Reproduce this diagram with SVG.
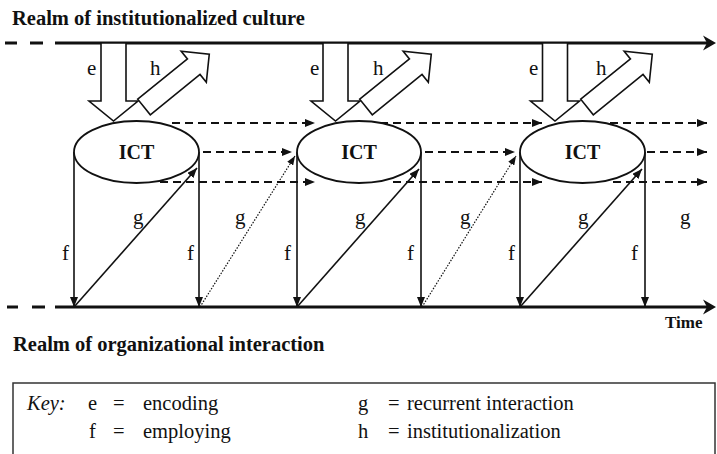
<svg xmlns="http://www.w3.org/2000/svg" xmlns:xlink="http://www.w3.org/1999/xlink" width="717" height="454" viewBox="0 0 717 454">
<style>
 text{font-family:"Liberation Serif","DejaVu Serif",serif;fill:#111}
 .title{font-size:20.5px;font-weight:bold}
 .lbl{font-size:21px}
 .ict{font-size:20px;font-weight:bold;text-anchor:middle}
 .key{font-size:20.5px}
 .axis{stroke:#111;stroke-width:3;fill:none}
 .axhead{fill:#111;stroke:none}
 .f{stroke:#111;stroke-width:1.6;fill:none;marker-end:url(#ah)}
 .dash{stroke:#111;stroke-width:2;stroke-dasharray:8 5;fill:none;marker-end:url(#ah)}
 .dot{stroke:#111;stroke-width:1.2;stroke-dasharray:1.5 1.5;fill:none;marker-end:url(#ahs)}
 .blk{fill:#fff;stroke:#111;stroke-width:1.6;stroke-linejoin:miter}
 .ell{fill:#fff;stroke:#111;stroke-width:1.8}
 .box{fill:none;stroke:#333;stroke-width:1.5}
</style>
<defs>
 <marker id="ah" viewBox="0 0 10 8" markerWidth="10" markerHeight="8" refX="10" refY="4" markerUnits="userSpaceOnUse" orient="auto">
  <path d="M0,0 L10,4 L0,8 Z" fill="#111"/>
 </marker>
 <marker id="ahs" viewBox="0 0 9 7" markerWidth="9" markerHeight="7" refX="9" refY="3.5" markerUnits="userSpaceOnUse" orient="auto">
  <path d="M0,0 L9,3.5 L0,7 Z" fill="#111"/>
 </marker>
 <polygon id="eArrow" class="blk" points="-12.5,0 -12.5,58 -24.5,58 0,78 24.5,58 12.5,58 12.5,0"/>
 <path id="hArrow" class="blk" d="M0,-10 L64,-10 L64,-20 L84,0 L64,20 L64,10 L0,10 Z"/>
</defs>
<rect width="717" height="454" fill="#fff"/>

<g id="titles" font-family="Liberation Serif, DejaVu Serif, serif">
 <text class="title" x="12" y="25">Realm of institutionalized culture</text>
 <text class="title" x="13" y="351">Realm of organizational interaction</text>
 <text x="665" y="328" style="font-size:17px;font-weight:bold">Time</text>
</g>

<g id="connectors" font-family="Liberation Serif, DejaVu Serif, serif">
 <!-- time axes -->
 <path class="axis" d="M5,43 H17 M30,43 H43 M55,43 H707"/>
 <path class="axhead" d="M716,43 L703,35.5 L707,43 L703,50.5 Z"/>
 <path class="axis" d="M7,307 H18 M32,307 H45 M55,307 H707"/>
 <path class="axhead" d="M716,307 L703,299.5 L707,307 L703,314.5 Z"/>

 <!-- encoding arrows -->
 <use xlink:href="#eArrow" href="#eArrow" transform="translate(113.5,43)"/>
 <use xlink:href="#eArrow" href="#eArrow" transform="translate(335.5,43)"/>
 <use xlink:href="#eArrow" href="#eArrow" transform="translate(555,43)"/>

 <!-- institutionalization arrows -->
 <use xlink:href="#hArrow" href="#hArrow" transform="translate(144,107) rotate(-39)"/>
 <use xlink:href="#hArrow" href="#hArrow" transform="translate(366,107) rotate(-39)"/>
 <use xlink:href="#hArrow" href="#hArrow" transform="translate(587,107) rotate(-39)"/>

 <!-- dashed continuity arrows -->
 <path class="dash" d="M172,123 H315"/>
 <path class="dash" d="M380,123 H542"/>
 <path class="dash" d="M610,123 H707"/>
 <path class="dash" d="M203,152 H292"/>
 <path class="dash" d="M425,152 H515"/>
 <path class="dash" d="M647,152 H707"/>
 <path class="dash" d="M160,182 H315"/>
 <path class="dash" d="M393,182 H542"/>
 <path class="dash" d="M613,182 H707"/>

 <!-- employing arrows -->
 <path class="f" d="M74,152 V307"/>
 <path class="f" d="M199,152 V307"/>
 <path class="f" d="M297,152 V307"/>
 <path class="f" d="M421,152 V307"/>
 <path class="f" d="M520,152 V307"/>
 <path class="f" d="M645,152 V307"/>

 <!-- recurrent interaction -->
 <path class="f" d="M74,307 L197,168"/>
 <path class="f" d="M297,307 L419,169"/>
 <path class="f" d="M520,307 L642,169"/>
 <path class="dot" d="M200,307 L295,156"/>
 <path class="dot" d="M422,307 L516,156"/>

 <!-- connector labels -->
 <text class="lbl" x="87" y="75">e</text>
 <text class="lbl" x="310" y="75">e</text>
 <text class="lbl" x="529" y="75">e</text>
 <text class="lbl" x="150" y="75">h</text>
 <text class="lbl" x="373" y="75">h</text>
 <text class="lbl" x="596" y="75">h</text>
 <text class="lbl" x="62" y="260">f</text>
 <text class="lbl" x="187" y="260">f</text>
 <text class="lbl" x="284" y="260">f</text>
 <text class="lbl" x="407" y="260">f</text>
 <text class="lbl" x="508" y="260">f</text>
 <text class="lbl" x="631" y="260">f</text>
 <text class="lbl" x="133" y="224">g</text>
 <text class="lbl" x="235" y="224">g</text>
 <text class="lbl" x="355" y="224">g</text>
 <text class="lbl" x="460" y="224">g</text>
 <text class="lbl" x="578" y="224">g</text>
 <text class="lbl" x="680" y="224">g</text>
</g>

<g id="ict1" font-family="Liberation Serif, DejaVu Serif, serif">
 <ellipse class="ell" cx="136.5" cy="152" rx="62.5" ry="31"/>
 <text class="ict" x="136.5" y="159">ICT</text>
</g>
<g id="ict2" font-family="Liberation Serif, DejaVu Serif, serif">
 <ellipse class="ell" cx="359" cy="152" rx="62" ry="31"/>
 <text class="ict" x="359" y="159">ICT</text>
</g>
<g id="ict3" font-family="Liberation Serif, DejaVu Serif, serif">
 <ellipse class="ell" cx="582.5" cy="152" rx="62.5" ry="31"/>
 <text class="ict" x="582.5" y="159">ICT</text>
</g>

<g id="key" font-family="Liberation Serif, DejaVu Serif, serif">
 <rect class="box" x="13" y="383" width="702" height="80"/>
 <text class="key" x="27" y="410" font-style="italic">Key:</text>
 <text class="key" x="88" y="410">e</text>
 <text class="key" x="113" y="410">=</text>
 <text class="key" x="143" y="410">encoding</text>
 <text class="key" x="89" y="438">f</text>
 <text class="key" x="113" y="438">=</text>
 <text class="key" x="143" y="438">employing</text>
 <text class="key" x="358" y="410">g</text>
 <text class="key" x="388" y="410">=</text>
 <text class="key" x="407" y="410">recurrent interaction</text>
 <text class="key" x="358" y="438">h</text>
 <text class="key" x="388" y="438">=</text>
 <text class="key" x="407" y="438">institutionalization</text>
</g>
</svg>
